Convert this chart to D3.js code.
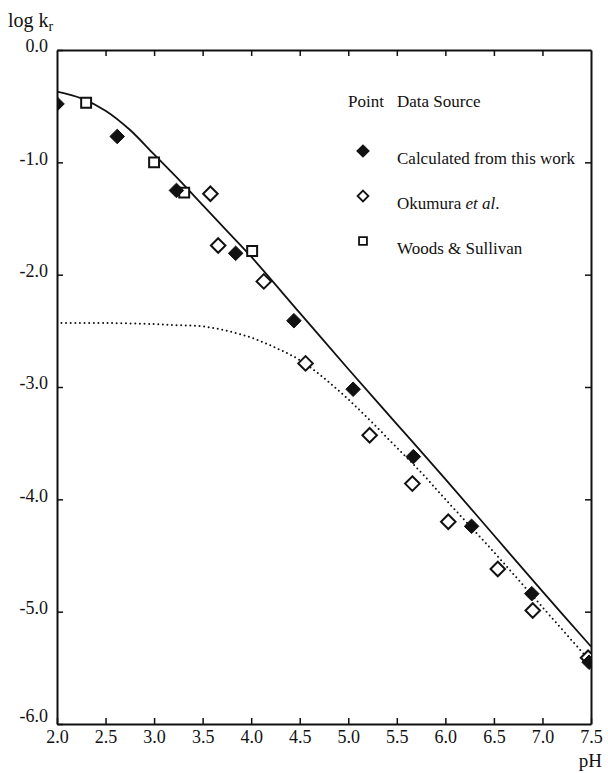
<!DOCTYPE html>
<html>
<head>
<meta charset="utf-8">
<script src="https://cdn.jsdelivr.net/npm/d3@7/dist/d3.min.js"></script>
<style>
body { margin: 0; background: #fff; }
text { font-family: "Liberation Serif", "Times New Roman", serif; fill: #111; }
</style>
</head>
<body>
<div id="chart"></div>
<script>

// points
var calcPH   = [2.00, 2.62, 3.23, 3.84, 4.44, 5.05, 5.67, 6.27, 6.89, 7.48];
var calcLogK = [-0.48, -0.77, -1.25, -1.81, -2.41, -3.02, -3.62, -4.24, -4.84, -5.45];

var okumuraPH   = [3.58, 3.66, 4.13, 4.56, 5.22, 5.66, 6.03, 6.54, 6.90, 7.47];
var okumuraLogK = [-1.28, -1.74, -2.06, -2.79, -3.43, -3.86, -4.20, -4.62, -4.99, -5.41];

var woodsPH   = [2.30, 3.00, 3.31, 4.01];
var woodsLogK = [-0.47, -1.00, -1.27, -1.79];

// the two curves
var solidPH   = [2.0, 2.25, 2.5, 2.75, 3.0, 3.25, 3.5, 3.75, 4.0, 4.5, 5.0, 5.5, 6.0, 6.5, 7.0, 7.5];
var solidLogK = [-0.37, -0.43, -0.54, -0.71, -0.93, -1.15, -1.38, -1.61, -1.84, -2.34, -2.84, -3.33, -3.82, -4.32, -4.82, -5.31];

var dotPH   = [2.0, 2.5, 3.0, 3.25, 3.5, 3.75, 4.0, 4.25, 4.5, 4.75, 5.0, 5.25, 5.5, 5.75, 6.0, 6.5, 7.0, 7.5];
var dotLogK = [-2.43, -2.43, -2.44, -2.45, -2.46, -2.50, -2.56, -2.65, -2.76, -2.92, -3.11, -3.32, -3.54, -3.76, -4.00, -4.47, -4.96, -5.45];

var xTicks = [2.0, 2.5, 3.0, 3.5, 4.0, 4.5, 5.0, 5.5, 6.0, 6.5, 7.0, 7.5];
var yTicks = [0, -1, -2, -3, -4, -5, -6];

var legendNames = ["Calculated from this work", "Okumura", "Woods & Sullivan"];

var W = 608, H = 773;
var margin = {top: 50, right: 17, bottom: 49, left: 57};
var w = W - margin.left - margin.right;
var h = H - margin.top - margin.bottom;

var svg = d3.select("#chart").append("svg")
  .attr("width", W).attr("height", H);

var x = d3.scaleLinear().domain([2.0, 7.5]).range([0, w]);
var y = d3.scaleLinear().domain([-6, 0]).range([h, 0]);

var g = svg.append("g").attr("transform", "translate(" + margin.left + "," + margin.top + ")");

g.append("clipPath").attr("id", "plotclip")
  .append("rect").attr("width", w).attr("height", h);

var fmt = function(d) { return d.toFixed(1); };

// axes, ticks pointing into the frame
var bottomAxis = d3.axisBottom(x).tickValues(xTicks).tickSizeInner(-6).tickSizeOuter(0).tickFormat(fmt).tickPadding(10);
var topAxis = d3.axisTop(x).tickValues(xTicks.slice(1, -1)).tickSizeInner(-6).tickSizeOuter(0).tickFormat("");
var leftAxis = d3.axisLeft(y).tickValues(yTicks).tickSizeInner(-6).tickSizeOuter(0).tickFormat(fmt).tickPadding(9);
var rightAxis = d3.axisRight(y).tickValues(yTicks.slice(1, -1)).tickSizeInner(-6).tickSizeOuter(0).tickFormat("");

var gb = g.append("g").attr("transform", "translate(0," + h + ")").call(bottomAxis);
var gt = g.append("g").call(topAxis);
var gl = g.append("g").call(leftAxis);
var gr = g.append("g").attr("transform", "translate(" + w + ",0)").call(rightAxis);

[gb, gt, gl, gr].forEach(function(a) {
  a.attr("font-family", "'Liberation Serif', serif").attr("font-size", 18);
  a.select(".domain").attr("stroke", "#111").attr("stroke-width", 2);
  a.selectAll(".tick line").attr("stroke", "#111").attr("stroke-width", 1.5);
  a.selectAll(".tick text").attr("fill", "#111").style("font-size", "18px")
    .style("font-family", "'Liberation Serif', serif");
});
gl.selectAll(".tick text").attr("dy", "0.1em");
// -6.0 sits a bit above the corner
gl.selectAll(".tick text").filter(function(d) { return d == -6; }).attr("dy", "-0.15em");
gb.selectAll(".tick text").attr("dy", "0.5em");

// axis titles
var yt = svg.append("text").attr("x", 8).attr("y", 27).style("font-size", "20px");
yt.append("tspan").text("log k");
yt.append("tspan").attr("dy", 4).style("font-size", "14px").text("r");

svg.append("text").attr("x", 602).attr("y", 767).attr("text-anchor", "end")
  .style("font-size", "19px").text("pH");

var plot = g.append("g").attr("clip-path", "url(#plotclip)");

var line = d3.line().x(function(d) { return x(d[0]); }).y(function(d) { return y(d[1]); })
  .curve(d3.curveCatmullRom);

plot.append("path").datum(d3.zip(solidPH, solidLogK))
  .attr("d", line).attr("fill", "none").attr("stroke", "#111").attr("stroke-width", 1.8);

plot.append("path").datum(d3.zip(dotPH, dotLogK))
  .attr("d", line).attr("fill", "none").attr("stroke", "#111").attr("stroke-width", 2)
  .attr("stroke-linecap", "round").attr("stroke-dasharray", "0,4.6");

var diamond = d3.symbol().type(d3.symbolDiamond2).size(135);
var square = d3.symbol().type(d3.symbolSquare2).size(125);

plot.selectAll("path.oku").data(d3.zip(okumuraPH, okumuraLogK)).enter()
  .append("path").attr("class", "oku")
  .attr("transform", function(d) { return "translate(" + x(d[0]) + "," + y(d[1]) + ")"; })
  .attr("d", diamond).attr("fill", "#fff").attr("stroke", "#111").attr("stroke-width", 2);

plot.selectAll("path.woods").data(d3.zip(woodsPH, woodsLogK)).enter()
  .append("path").attr("class", "woods")
  .attr("transform", function(d) { return "translate(" + x(d[0]) + "," + y(d[1]) + ")"; })
  .attr("d", square).attr("fill", "#fff").attr("stroke", "#111").attr("stroke-width", 2);

plot.selectAll("path.calc").data(d3.zip(calcPH, calcLogK)).enter()
  .append("path").attr("class", "calc")
  .attr("transform", function(d) { return "translate(" + x(d[0]) + "," + y(d[1]) + ")"; })
  .attr("d", diamond).attr("fill", "#111").attr("stroke", "#111").attr("stroke-width", 1);

// legend
var lg = svg.append("g").attr("transform", "translate(348,0)");
lg.append("text").attr("x", 0).attr("y", 107).style("font-size", "17px").text("Point");
lg.append("text").attr("x", 49).attr("y", 107).style("font-size", "17px").text("Data Source");

var rowY = [151, 196, 241];
lg.append("path").attr("transform", "translate(15," + rowY[0] + ")")
  .attr("d", d3.symbol().type(d3.symbolDiamond2).size(120)).attr("fill", "#111");
lg.append("path").attr("transform", "translate(15," + rowY[1] + ")")
  .attr("d", d3.symbol().type(d3.symbolDiamond2).size(75)).attr("fill", "#fff")
  .attr("stroke", "#111").attr("stroke-width", 1.8);
lg.append("path").attr("transform", "translate(15," + rowY[2] + ")")
  .attr("d", d3.symbol().type(d3.symbolSquare2).size(80)).attr("fill", "#fff")
  .attr("stroke", "#111").attr("stroke-width", 1.8);

lg.selectAll("text.entry").data(legendNames).enter()
  .append("text").attr("class", "entry")
  .attr("x", 49).attr("y", function(d, i) { return rowY[i] + 13; })
  .style("font-size", "17px")
  .each(function(d) {
    var t = d3.select(this);
    if (d == "Okumura") {
      t.append("tspan").text("Okumura ");
      t.append("tspan").style("font-style", "italic").text("et al");
      t.append("tspan").text(".");
    } else {
      t.text(d);
    }
  });

</script>
</body>
</html>
